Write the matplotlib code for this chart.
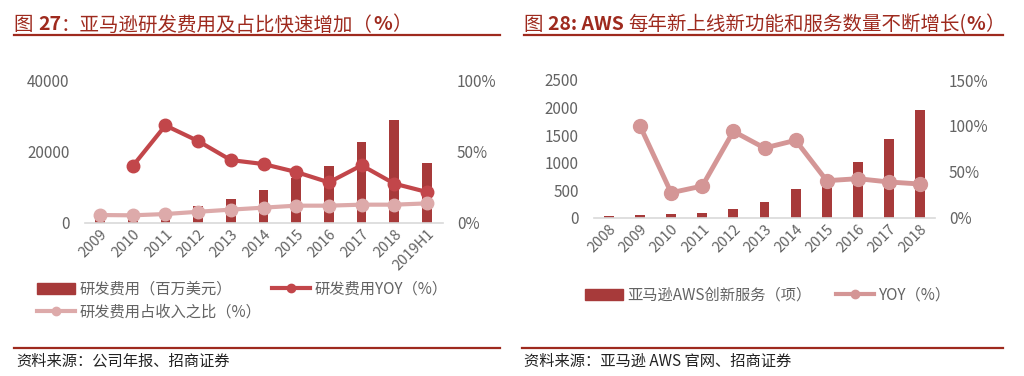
import numpy as np
import matplotlib
matplotlib.use("Agg")
import matplotlib.pyplot as plt
from matplotlib.lines import Line2D
from matplotlib.patches import Patch

plt.rcParams['font.family'] = ['Noto Sans CJK SC', 'DejaVu Sans']

# 图27 数据
years_rd = ["2009", "2010", "2011", "2012", "2013", "2014", "2015", "2016", "2017", "2018", "2019H1"]
rd_cost = [1240, 1734, 2909, 4564, 6565, 9275, 12540, 16085, 22620, 28837, 16927]
rd_yoy = [np.nan, 39.9, 68.5, 57.5, 44.1, 41.3, 35.7, 28.4, 40.4, 27.5, 21.6]
rd_ratio = [5.4, 5.2, 6.1, 7.7, 9.2, 10.6, 12.0, 12.0, 12.7, 12.7, 13.6]

# 图28 数据
years_aws = ["2008", "2009", "2010", "2011", "2012", "2013", "2014", "2015", "2016", "2017", "2018"]
aws_new = [24, 48, 61, 82, 159, 280, 516, 722, 1017, 1430, 1957]
aws_yoy = [np.nan, 99.9, 27.2, 34.5, 94.1, 75.9, 84.3, 40.3, 42.5, 38.9, 36.7]

W, H = 1024, 376
BAR = '#A73A3A'
RED = '#C2464A'
PINK = '#DDAAAA'
PINK2 = '#D49696'
TITLE = '#9E2A1E'
GREY = '#636363'

fig = plt.figure(figsize=(W / 100, H / 100), dpi=100)
renderer = fig.canvas.get_renderer()


def px_axes(x0, x1, ytop, ybot):
    return fig.add_axes([x0 / W, 1 - ybot / H, (x1 - x0) / W, (ybot - ytop) / H])


def style(ax, ax2):
    for a in (ax, ax2):
        for s in a.spines.values():
            s.set_visible(False)
        a.tick_params(length=0, colors=GREY, labelsize=11)
    ax.spines['bottom'].set_visible(True)
    ax.spines['bottom'].set_color('#D9D9D9')
    ax.spines['bottom'].set_linewidth(1.2)
    ax.tick_params(axis='y', pad=11)
    ax2.tick_params(axis='y', pad=10)
    ax.tick_params(axis='x', pad=3, labelsize=10.5)


def header(x0, x1, parts):
    # parts: (text, bold) pieces drawn one after another
    xpos = x0
    for txt, bold in parts:
        t = fig.text(xpos / W, 1 - 25 / H, txt, fontsize=14, fontweight='bold' if bold else 'medium',
                     color=TITLE, va='center', ha='left')
        xpos += t.get_window_extent(renderer).width
    fig.add_artist(Line2D([x0 / W, x1 / W], [1 - 35 / H, 1 - 35 / H], color=TITLE, lw=1.6))


def footer(x0, x1, text):
    fig.add_artist(Line2D([x0 / W, x1 / W], [1 - 348 / H, 1 - 348 / H], color=TITLE, lw=1.6))
    fig.text((x0 + 2) / W, 1 - 361 / H, text, fontsize=11, color='#222222', va='center', ha='left')


# ---------- 左图 ----------
header(14, 500, [("图 ", False), ("27", True), ("：亚马逊研发费用及占比快速增加（", False),
                 ("%", True), ("）", False)])
ax = px_axes(85, 443, 80.7, 222.7)
x = np.arange(len(years_rd))
ax.bar(x, rd_cost, width=0.3, color=BAR, zorder=2)
ax.set_ylim(0, 40000)
ax.set_yticks([0, 20000, 40000])
ax.set_xlim(-0.46, 10.49)
ax.set_xticks(x)
ax.set_xticklabels(years_rd, rotation=45, ha='right', rotation_mode='anchor')
ax2 = ax.twinx()
ax2.plot(x, rd_yoy, color=RED, lw=3, marker='o', ms=9, zorder=3)
ax2.plot(x, rd_ratio, color=PINK, lw=3, marker='o', ms=9, zorder=3)
ax2.set_ylim(0, 100)
ax2.set_yticks([0, 50, 100])
ax2.set_yticklabels(["0%", "50%", "100%"])
ax2.set_xlim(-0.46, 10.49)
style(ax, ax2)

h1 = [Patch(color=BAR),
      Line2D([], [], color=PINK, lw=3, marker='o', ms=6),
      Line2D([], [], color=RED, lw=3, marker='o', ms=6)]
l1 = ["研发费用（百万美元）", "研发费用占收入之比（%）", "研发费用YOY（%）"]
fig.legend(h1, l1, loc='upper left', bbox_to_anchor=(23 / W, 1 - 267 / H), ncol=2, frameon=False,
           fontsize=11, handlelength=2.5, handletextpad=0.3, columnspacing=0.7, labelspacing=0.35,
           labelcolor=GREY)
footer(14, 500, "资料来源：公司年报、招商证券")

# ---------- 右图 ----------
header(524, 1003, [("图 ", False), ("28: AWS ", True), ("每年新上线新功能和服务数量不断增长(", False),
                   ("%", True), ("）", False)])
bx = px_axes(594, 935, 80, 217.7)
x2 = np.arange(len(years_aws))
bx.bar(x2, aws_new, width=0.32, color=BAR, zorder=2)
bx.set_ylim(0, 2500)
bx.set_yticks(np.arange(0, 2501, 500))
bx.set_xlim(-0.48, 10.48)
bx.set_xticks(x2)
bx.set_xticklabels(years_aws, rotation=45, ha='right', rotation_mode='anchor')
bx2 = bx.twinx()
bx2.plot(x2, aws_yoy, color=PINK2, lw=3.5, marker='o', ms=10, zorder=3)
bx2.set_ylim(0, 150)
bx2.set_yticks([0, 50, 100, 150])
bx2.set_yticklabels(["0%", "50%", "100%", "150%"])
bx2.set_xlim(-0.48, 10.48)
style(bx, bx2)

h2 = [Patch(color=BAR), Line2D([], [], color=PINK2, lw=3, marker='o', ms=6)]
l2 = ["亚马逊AWS创新服务（项）", "YOY（%）"]
fig.legend(h2, l2, loc='upper left', bbox_to_anchor=(571 / W, 1 - 273 / H), ncol=2, frameon=False,
           fontsize=11, handlelength=2.5, handletextpad=0.3, columnspacing=1.6, labelcolor=GREY)
footer(522, 1003, "资料来源：亚马逊 AWS 官网、招商证券")

fig.savefig("out.png", dpi=100)
plt.close(fig)
